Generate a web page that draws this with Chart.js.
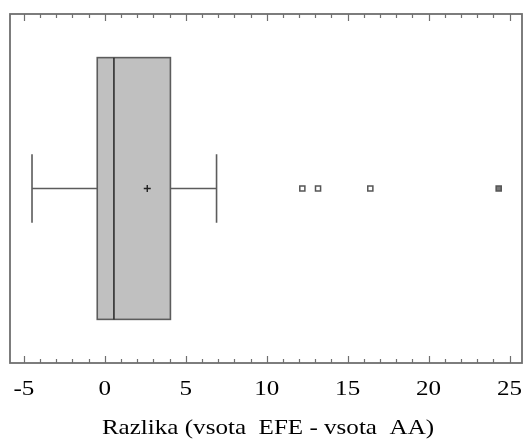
<!DOCTYPE html>
<html lang="sl"><head>
<meta charset="utf-8"/>
<title>Razlika EFE - AA</title>
<script src="https://cdn.jsdelivr.net/npm/chart.js"></script>
<style>
    html, body { margin: 0; padding: 0; background: #fff; }
    #wrap { width: 523px; height: 439px; position: relative; }
</style>
</head>
<body>
<div id="wrap"><canvas id="boxChart"></canvas></div>
<script>
    // five-number summary: lower whisker, Q1, median, Q3, upper whisker
    const fiveNumber = [-4.5, -0.47, 0.56, 4.05, 6.9];
    const meanValue = [2.62];
    const outsideValues = [12.2, 13.17, 16.4];
    const farOutsideValues = [24.33];
    const tickValues = [-5, 0, 5, 10, 15, 20, 25];
    const axisRange = [-5.86, 25.77];
    const axisTitle = 'Razlika (vsota  EFE - vsota  AA)';
    const rowLevel = 0.5;

    const frameColor = '#6f6f6f';
    const boxLine = '#5c5c5c';
    const labelFont = '22px "Liberation Serif", "Times New Roman", serif';
    const stretch = 1.14; // labels are set a bit wide

    function wideText(ctx, text, x, y) {
        ctx.save();
        ctx.translate(x, y);
        ctx.scale(stretch, 1);
        ctx.fillText(text, 0, 0);
        ctx.restore();
    }

    const boxPlot = {
        id: 'boxPlot',
        beforeDatasetsDraw(chart) {
            const { ctx, scales: { x, y } } = chart;
            const [lo, q1, med, q3, hi] = fiveNumber;
            const yc = y.getPixelForValue(rowLevel);
            const yTop = y.getPixelForValue(0.875);
            const yBot = y.getPixelForValue(0.125);
            const capTop = y.getPixelForValue(0.598);
            const capBot = y.getPixelForValue(0.402);
            const x1 = x.getPixelForValue(q1), x3 = x.getPixelForValue(q3);
            ctx.save();
            // box
            ctx.fillStyle = '#c0c0c0';
            ctx.fillRect(x1, yTop, x3 - x1, yBot - yTop);
            ctx.strokeStyle = boxLine;
            ctx.lineWidth = 1.6;
            ctx.strokeRect(x1, yTop, x3 - x1, yBot - yTop);
            // median
            ctx.strokeStyle = '#2e2e2e';
            ctx.beginPath();
            ctx.moveTo(x.getPixelForValue(med), yTop);
            ctx.lineTo(x.getPixelForValue(med), yBot);
            ctx.stroke();
            // whiskers and caps
            ctx.strokeStyle = boxLine;
            ctx.beginPath();
            ctx.moveTo(x.getPixelForValue(lo), yc);
            ctx.lineTo(x1, yc);
            ctx.moveTo(x3, yc);
            ctx.lineTo(x.getPixelForValue(hi), yc);
            ctx.moveTo(x.getPixelForValue(lo), capTop);
            ctx.lineTo(x.getPixelForValue(lo), capBot);
            ctx.moveTo(x.getPixelForValue(hi), capTop);
            ctx.lineTo(x.getPixelForValue(hi), capBot);
            ctx.stroke();
            ctx.restore();
        },
        afterDraw(chart) {
            const { ctx, chartArea: a, scales: { x } } = chart;
            ctx.save();
            ctx.strokeStyle = frameColor;
            ctx.lineWidth = 1.8;
            ctx.strokeRect(a.left, a.top, a.right - a.left, a.bottom - a.top);
            // inward ticks on top and bottom, minor every unit
            ctx.lineWidth = 1.2;
            ctx.beginPath();
            for (let v = tickValues[0]; v <= tickValues[tickValues.length - 1]; v++) {
                const px = Math.round(x.getPixelForValue(v)) + 0.5;
                const len = v % 5 === 0 ? 7 : 4;
                ctx.moveTo(px, a.bottom);
                ctx.lineTo(px, a.bottom - len);
                ctx.moveTo(px, a.top);
                ctx.lineTo(px, a.top + len);
            }
            ctx.stroke();
            // tick labels and axis title
            ctx.fillStyle = '#000';
            ctx.font = labelFont;
            ctx.textAlign = 'center';
            ctx.textBaseline = 'alphabetic';
            x.ticks.forEach(t => wideText(ctx, String(t.value), x.getPixelForValue(t.value), a.bottom + 32));
            wideText(ctx, axisTitle, (a.left + a.right) / 2 + 2, a.bottom + 71);
            ctx.restore();
        }
    };

    new Chart(document.getElementById('boxChart'), {
        type: 'scatter',
        data: {
            datasets: [
                {
                    label: 'mean',
                    data: meanValue.map(v => ({ x: v, y: rowLevel })),
                    pointStyle: 'cross',
                    pointRadius: 3.5,
                    borderColor: '#222',
                    borderWidth: 1.4
                },
                {
                    label: 'outside',
                    data: outsideValues.map(v => ({ x: v, y: rowLevel })),
                    pointStyle: 'rect',
                    pointRadius: 3.6,
                    backgroundColor: '#fff',
                    borderColor: '#555',
                    borderWidth: 1.5
                },
                {
                    label: 'far outside',
                    data: farOutsideValues.map(v => ({ x: v, y: rowLevel })),
                    pointStyle: 'rect',
                    pointRadius: 3.6,
                    backgroundColor: '#777',
                    borderColor: '#555',
                    borderWidth: 1.5
                },
                {
                    label: 'far outside cross',
                    data: farOutsideValues.map(v => ({ x: v, y: rowLevel })),
                    pointStyle: 'cross',
                    pointRadius: 2.2,
                    borderColor: '#cfcfcf',
                    borderWidth: 1
                }
            ]
        },
        options: {
            responsive: true,
            maintainAspectRatio: false,
            animation: false,
            layout: { autoPadding: false, padding: { left: 10, right: 1, top: 14, bottom: 0 } },
            plugins: {
                legend: { display: false },
                tooltip: { enabled: false }
            },
            scales: {
                x: {
                    type: 'linear',
                    min: axisRange[0],
                    max: axisRange[1],
                    grid: { display: false, drawTicks: false },
                    border: { display: false },
                    afterBuildTicks: (scale) => {
                        scale.ticks = tickValues.map(v => ({ value: v }));
                    },
                    afterFit: (scale) => {
                        scale.height = 76;
                    },
                    ticks: { display: false },
                    title: { display: false }
                },
                y: {
                    display: false,
                    min: 0,
                    max: 1
                }
            }
        },
        plugins: [boxPlot]
    });
</script>
</body></html>
